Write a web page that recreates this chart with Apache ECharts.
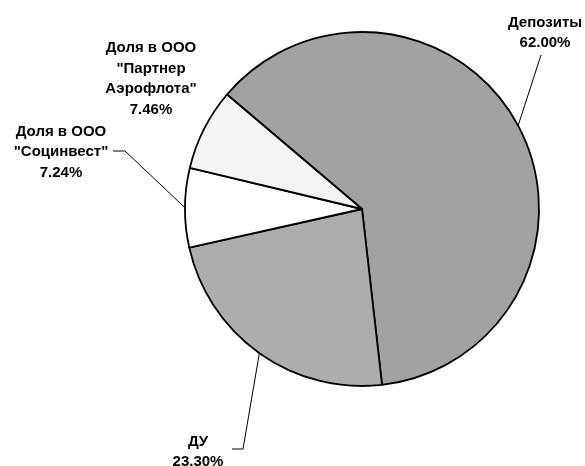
<!DOCTYPE html>
<html>
<head>
<meta charset="utf-8">
<script src="https://cdn.jsdelivr.net/npm/echarts@6/dist/echarts.min.js"></script>
<style>
  html, body { margin: 0; padding: 0; background: #fff; }
  #chart { width: 585px; height: 466px; }
</style>
</head>
<body>
<div id="chart"></div>
<script>
// данные диаграммы
const names = ['Депозиты', 'ДУ', 'Доля в ООО\n"Социнвест"', 'Доля в ООО\n"Партнер\nАэрофлота"']
const values = [62.0, 23.3, 7.24, 7.46]
const colors = ['#a2a2a2', '#adadad', '#ffffff', '#f4f4f4']

// где стоят подписи (центр текста) и куда приходит выноска
const labelPos = [
  { x: 545, y: 33, end: [541, 55], knee: null },
  { x: 198, y: 452, end: [232, 449], knee: [243, 449] },
  { x: 61, y: 152, end: [113, 151], knee: [125, 151] },
  { x: 151, y: 79, end: null, knee: null },
]

const chart = echarts.init(document.getElementById('chart'))

chart.setOption({
  animation: false,
  backgroundColor: '#fff',
  series: [
    {
      type: 'pie',
      center: [362, 209],
      radius: 177,
      startAngle: 139.7,
      clockwise: true,
      silent: true,
      itemStyle: { borderColor: '#000', borderWidth: 1.8 },
      label: {
        show: true,
        position: 'outside',
        color: '#000',
        fontFamily: 'Liberation Sans, Arial, sans-serif',
        fontWeight: 'bold',
        fontSize: 15,
        lineHeight: 20.5,
        align: 'center',
        overflow: 'none',
        formatter: function (p) {
          return p.name + '\n' + p.value.toFixed(2) + '%'
        },
      },
      labelLine: {
        show: true,
        length: 10,
        length2: 10,
        lineStyle: { color: '#000', width: 1 },
      },
      labelLayout: function (params) {
        const p = labelPos[params.dataIndex]
        const out = { x: p.x, y: p.y, align: 'center', verticalAlign: 'middle', width: 200 }
        const start = params.labelLinePoints ? params.labelLinePoints[0] : null
        if (p.end && start) {
          out.labelLinePoints = p.knee ? [start, p.knee, p.end] : [start, p.end, p.end]
        } else {
          out.labelLinePoints = [[0, 0], [0, 0], [0, 0]]
        }
        return out
      },
      data: names.map((n, i) => ({
        name: n,
        value: values[i],
        itemStyle: { color: colors[i] },
        labelLine: { show: labelPos[i].end != null },
      })),
    },
  ],
})
</script>
</body>
</html>
